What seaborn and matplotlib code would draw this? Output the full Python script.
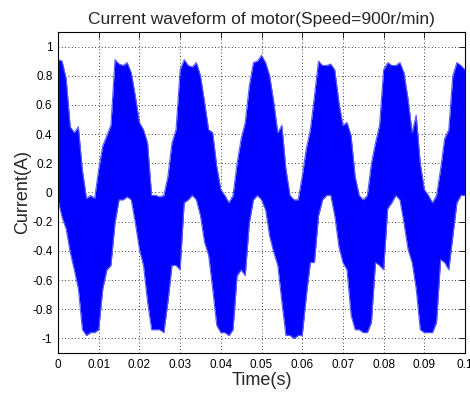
import numpy as np
import pandas as pd
import matplotlib
matplotlib.use("Agg")
import matplotlib.pyplot as plt
import seaborn as sns

# Envelope of the noisy current signal, every 1 ms
time_ms = list(range(0, 101))
current_upper = [
    0.91, 0.90, 0.78, 0.45, 0.41, 0.45, 0.15, -0.04, -0.02, -0.04,
    0.16, 0.32, 0.39, 0.46, 0.91, 0.88, 0.87, 0.89, 0.82, 0.66,
    0.48, 0.43, 0.34, -0.02, -0.02, -0.03, -0.02, 0.11, 0.34, 0.43,
    0.84, 0.91, 0.87, 0.86, 0.89, 0.80, 0.62, 0.43, 0.41, 0.18,
    0.02, -0.02, -0.07, -0.02, 0.20, 0.37, 0.48, 0.73, 0.89, 0.90,
    0.94, 0.89, 0.80, 0.62, 0.41, 0.46, 0.16, -0.02, -0.05, -0.05,
    0.11, 0.30, 0.43, 0.66, 0.90, 0.87, 0.87, 0.88, 0.84, 0.62,
    0.46, 0.48, 0.39, 0.11, -0.02, -0.05, -0.02, 0.20, 0.34, 0.46,
    0.84, 0.89, 0.87, 0.87, 0.89, 0.82, 0.64, 0.41, 0.53, 0.20,
    0.02, -0.02, -0.07, -0.02, 0.16, 0.37, 0.43, 0.80, 0.89, 0.87,
    0.84,
]
current_lower = [
    -0.05, -0.17, -0.25, -0.41, -0.53, -0.66, -0.94, -0.98, -0.96, -0.96,
    -0.94, -0.66, -0.53, -0.50, -0.21, -0.05, -0.05, -0.03, -0.05, -0.21,
    -0.39, -0.50, -0.75, -0.94, -0.94, -0.94, -0.96, -0.75, -0.50, -0.50,
    -0.53, -0.07, -0.05, -0.02, -0.05, -0.16, -0.34, -0.43, -0.66, -0.91,
    -0.96, -0.96, -0.98, -0.94, -0.57, -0.53, -0.57, -0.21, -0.05, -0.02,
    -0.05, -0.12, -0.30, -0.41, -0.50, -0.75, -0.98, -0.98, -1.00, -0.98,
    -0.98, -0.71, -0.48, -0.48, -0.16, -0.05, -0.02, -0.02, -0.16, -0.37,
    -0.48, -0.53, -0.84, -0.94, -0.94, -0.96, -0.96, -0.89, -0.48, -0.50,
    -0.53, -0.11, -0.07, -0.02, -0.05, -0.21, -0.39, -0.48, -0.66, -0.94,
    -0.96, -0.96, -0.96, -0.89, -0.46, -0.48, -0.53, -0.30, -0.07, -0.02,
    -0.02,
]

df = pd.DataFrame({
    "t": np.array(time_ms) / 1000.0,
    "upper": current_upper,
    "lower": current_lower,
})

sns.set_style("white")
plt.rcParams["font.family"] = ["Liberation Sans", "DejaVu Sans"]

fig = plt.figure(figsize=(4.7, 3.94), dpi=100)
ax = fig.add_axes([0.1234, 0.104, 0.8660, 0.815])

blue = "#0000ff"
ax.fill_between(df["t"], df["lower"], df["upper"], color=blue, linewidth=0)
sns.lineplot(data=df, x="t", y="upper", ax=ax, color="#5a5aff", linewidth=0.8)
sns.lineplot(data=df, x="t", y="lower", ax=ax, color="#5a5aff", linewidth=0.8)

ax.set_xlim(0, 0.1)
ax.set_ylim(-1.1, 1.1)
ax.set_xticks(np.arange(0, 0.101, 0.01))
ax.set_xticklabels(["0", "0.01", "0.02", "0.03", "0.04", "0.05",
                    "0.06", "0.07", "0.08", "0.09", "0.1"])
ax.set_yticks(np.arange(-1, 1.01, 0.2))
ax.set_yticklabels(["-1", "-0.8", "-0.6", "-0.4", "-0.2", "0",
                    "0.2", "0.4", "0.6", "0.8", "1"])

ax.grid(True, color="black", linestyle=(0, (1, 3)), linewidth=0.6)
ax.tick_params(direction="in", length=4, width=0.6, top=True, right=True,
               labelsize=8.5, colors="black", pad=4)
for side in ax.spines.values():
    side.set_color("black")
    side.set_linewidth(0.8)

ax.set_title("Current waveform of motor(Speed=900r/min)", fontsize=12.5, pad=6)
ax.set_xlabel("Time(s)", fontsize=13, labelpad=1)
ax.set_ylabel("Current(A)", fontsize=13, labelpad=1)

fig.savefig("out.png", dpi=100)
